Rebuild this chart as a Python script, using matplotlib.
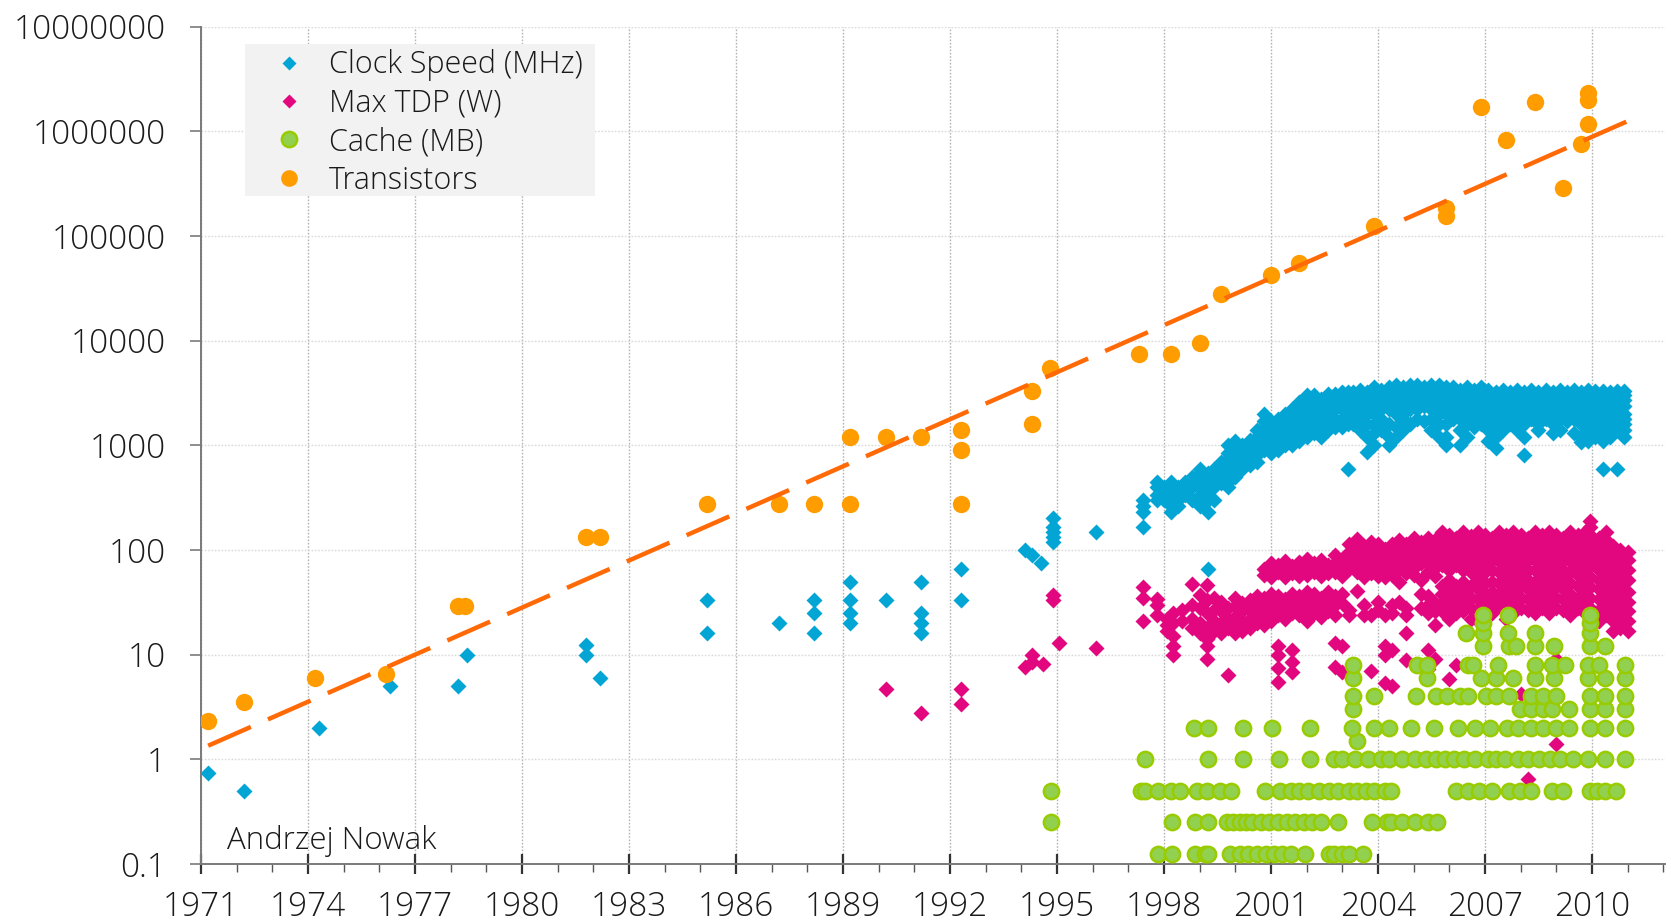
import matplotlib
matplotlib.use("Agg")
import matplotlib.pyplot as plt
from matplotlib import font_manager as fm
from matplotlib.lines import Line2D
from matplotlib.patches import Rectangle
from matplotlib.ticker import FixedLocator, FuncFormatter, MultipleLocator

# ---------------- font choice ----------------
entries = fm.fontManager.ttflist
chosen = None
for fam in ("Noto Sans", "Open Sans", "Roboto", "Lato"):
    for e in entries:
        if e.name == fam and str(e.stretch) == "normal" and e.weight in (300, "light") and e.style == "normal":
            chosen = e
            break
    if chosen:
        break
if chosen is None:
    plt.rcParams["font.family"] = ["Liberation Sans Narrow", "DejaVu Sans"]
else:
    plt.rcParams["font.family"] = [chosen.name, "DejaVu Sans"]
    plt.rcParams["font.weight"] = chosen.weight
    plt.rcParams["font.stretch"] = chosen.stretch
FS = 24
FS_LEG = 22

# ---------------- data ----------------
# Transistors (thousands)
trans_years = [1971.2, 1972.2, 1974.2, 1976.2, 1978.2, 1978.4, 1981.8, 1982.2, 1985.2, 1987.2,
               1988.2, 1989.2, 1989.2, 1990.2, 1991.2, 1992.3, 1992.3, 1992.3, 1994.3, 1994.3,
               1994.8, 1997.3, 1998.2, 1999.0, 1999.6, 2001.0, 2001.8, 2003.9, 2005.9, 2005.9,
               2006.9, 2007.6, 2008.4, 2009.2, 2009.7, 2009.9, 2009.9, 2009.9]
trans_values = [2.3, 3.5, 6, 6.5, 29, 29, 134, 134, 275, 275,
                275, 1200, 275, 1200, 1200, 1400, 900, 275, 3300, 1600,
                5500, 7500, 7500, 9500, 28000, 42000, 55000, 125000, 185000, 155000,
                1700000, 820000, 1900000, 290000, 750000, 2300000, 2000000, 1170000]

trend_years = [1971.2, 2011.0]
trend_values = [1.35, 1.25e6]

# Clock speed (MHz): years and values per year
clock_years = [1971.2, 1972.2, 1974.3, 1976.3, 1978.2, 1978.45, 1981.8, 1982.2, 1985.2, 1987.2,
               1988.2, 1989.2, 1990.2, 1991.2, 1992.3, 1994.1, 1994.3, 1994.55, 1994.9, 1996.1,
               1997.4, 1997.8, 1998.0, 1998.2, 1998.4, 1998.6, 1998.8, 1999.0, 1999.25, 1999.4,
               1999.6, 1999.8, 2000.0, 2000.2, 2000.4, 2000.6, 2000.8, 2001.0, 2001.2, 2001.4,
               2001.6, 2001.8, 2002.0, 2002.2, 2002.4, 2002.6, 2002.8, 2003.0, 2003.15, 2003.3,
               2003.5, 2003.7, 2003.9, 2004.1, 2004.3, 2004.5, 2004.7, 2004.9, 2005.1, 2005.3,
               2005.5, 2005.7, 2005.9, 2006.1, 2006.3, 2006.5, 2006.7, 2006.9, 2007.1, 2007.3,
               2007.5, 2007.7, 2007.9, 2008.1, 2008.3, 2008.5, 2008.7, 2008.9, 2009.1, 2009.3,
               2009.5, 2009.7, 2009.9, 2010.1, 2010.3, 2010.5, 2010.7, 2010.9]
clock_mhz = [[0.74], [0.5], [2], [5], [5], [10], [12.5, 10], [6], [33, 16], [20],
             [33, 25, 16], [50, 33, 25, 20], [33], [50, 25, 20, 16], [66, 33], [100], [90], [75],
             [200, 166, 150, 133, 120], [150],
             [300, 266, 233, 166], [450, 400, 333, 300], [400, 350, 300], [450, 400, 333, 266, 233],
             [400, 350, 300, 266], [450, 400, 333], [500, 450, 400, 300],
             [600, 550, 450, 400, 333, 266], [550, 500, 450, 366, 300, 233, 66], [600, 533, 466, 400, 300],
             [700, 650, 550, 500, 433], [1000, 850, 733, 650, 550, 450, 400],
             [1100, 933, 800, 700, 600, 500], [1000, 900, 800, 700, 600],
             [1133, 1000, 850, 733, 650], [1400, 1200, 1000, 900, 800, 700],
             [2000, 1700, 1500, 1300, 1133, 1000, 900], [1700, 1500, 1300, 1100, 1000, 850],
             [1800, 1600, 1400, 1200, 1000, 900], [2000, 1700, 1500, 1300, 1100, 1000],
             [2200, 1900, 1600, 1400, 1200, 1000], [2600, 2200, 1800, 1500, 1300, 1100],
             [3000, 2600, 2400, 2000, 1700, 1400, 1200], [3000, 2800, 2400, 2200, 2000, 1600, 1300],
             [2800, 2500, 2200, 1800, 1500, 1200], [3060, 2800, 2400, 2000, 1700, 1400],
             [3060, 2800, 2600, 2200, 1800, 1500], [3200, 3000, 2600, 2200, 1800, 1500],
             [3200, 2800, 2400, 2000, 1600, 600], [3200, 3000, 2800, 2400, 2000, 1600],
             [3400, 3000, 2600, 2200, 1800, 1400], [3200, 2800, 2400, 2000, 1600, 1200, 860],
             [3600, 3200, 2800, 2400, 2000, 1600, 1300, 1000], [3400, 3000, 2600, 2200, 1800, 1400],
             [3600, 3200, 2800, 2200, 1600, 1200, 1000], [3800, 3400, 3000, 2600, 2000, 1500, 1200],
             [3600, 3200, 2800, 2400, 2000, 1800, 1400], [3800, 3400, 3000, 2600, 2200, 1600],
             [3800, 3400, 3000, 2800, 2200, 1800], [3600, 3200, 2800, 2400, 1700],
             [3800, 3400, 3000, 2600, 2200, 1800, 1400], [3800, 3400, 3000, 2400, 2000, 1600, 1200],
             [3600, 3200, 2800, 2400, 2000, 1600, 1200, 1000], [3600, 3200, 2800, 2400, 2000, 1800],
             [3400, 3000, 2600, 2200, 1800, 1400, 1000], [3600, 3200, 2800, 2400, 2000, 1600, 1200],
             [3400, 3000, 2600, 2200, 1800, 1500], [3600, 3200, 2800, 2400, 2000, 1600],
             [3400, 3000, 2600, 2200, 1800, 1400, 1100], [3200, 2800, 2400, 2000, 1600, 1200, 950],
             [3400, 3000, 2600, 2200, 1800, 1400], [3200, 2800, 2400, 2000, 1600],
             [3400, 3000, 2600, 2200, 1800, 1400], [3200, 2800, 2400, 2000, 1600, 1200, 800],
             [3400, 3000, 2600, 2200, 1800], [3200, 2800, 2400, 2000, 1600, 1400],
             [3400, 3000, 2600, 2200, 1800], [3200, 2800, 2400, 2000, 1600, 1300],
             [3400, 3000, 2600, 2200, 1800, 1400], [3200, 2800, 2400, 2000, 1700],
             [3400, 3000, 2600, 2200, 1800, 1300], [3200, 2800, 2400, 2000, 1600, 1200, 1075],
             [3400, 3000, 2600, 2200, 1800, 1400, 1100], [3300, 2900, 2500, 2000, 1600, 1200],
             [3300, 3000, 2600, 2200, 1800, 1400, 1100, 600], [3200, 2800, 2400, 2000, 1600, 1200],
             [3300, 3000, 2600, 2200, 1800, 1400, 600],
             [3300, 3000, 2700, 2400, 2000, 1800, 1600, 1400, 1200]]

# Max TDP (W)
tdp_years = [1990.2, 1991.2, 1992.3, 1994.1, 1994.3, 1994.6, 1994.9, 1995.05, 1996.1,
             1997.4, 1997.8, 1998.1, 1998.25, 1998.5, 1998.8, 1999.0, 1999.2, 1999.4, 1999.6,
             1999.8, 2000.0, 2000.2, 2000.4, 2000.6, 2000.8, 2001.0, 2001.2, 2001.4, 2001.6,
             2001.8, 2002.0, 2002.2, 2002.4, 2002.6, 2002.8, 2003.0, 2003.2, 2003.4, 2003.6,
             2003.8, 2004.0, 2004.2, 2004.4, 2004.6, 2004.8, 2005.0, 2005.2, 2005.4, 2005.6,
             2005.8, 2006.0, 2006.2, 2006.4, 2006.6, 2006.8, 2007.0, 2007.2, 2007.4, 2007.6,
             2007.8, 2008.0, 2008.2, 2008.4, 2008.6, 2008.8, 2009.0, 2009.2, 2009.4, 2009.6,
             2009.8, 2009.95, 2010.2, 2010.4, 2010.6, 2010.8, 2011.0]
tdp_watts = [[4.7], [2.8], [4.7, 3.4], [7.6], [10, 8.5], [8.1], [37, 33], [13], [11.7],
             [44, 35, 21], [34, 30, 24], [22, 19, 17], [25, 20, 15, 12, 10], [27, 21],
             [47, 30, 22, 18], [37, 28, 20, 16], [46, 33, 25, 18, 14, 12, 9], [35, 27, 21, 17],
             [32, 26, 20, 16], [28, 22, 18, 6.4], [35, 29, 23, 19, 16], [31, 26, 21, 17],
             [33, 27, 22, 18], [36, 30, 25, 20], [66, 58, 35, 29, 24, 19],
             [75, 66, 55, 38, 31, 26, 21], [72, 62, 36, 29, 24, 12, 10, 7.5, 5.5],
             [78, 64, 55, 34, 27, 22], [70, 60, 38, 31, 25, 11, 8.5, 6.8],
             [76, 65, 56, 36, 30, 24], [82, 68, 58, 40, 33, 27, 21], [75, 62, 38, 31, 25],
             [80, 66, 57, 35, 29, 23], [72, 60, 40, 32, 26], [89, 75, 62, 36, 30, 24, 13, 7.6],
             [82, 68, 57, 38, 31, 12, 6.8], [115, 95, 80, 66, 27, 24], [127, 103, 89, 74, 62, 41],
             [110, 92, 80, 68, 55, 30, 24], [120, 100, 86, 72, 60, 24, 7],
             [115, 95, 82, 68, 57, 32, 27], [103, 89, 74, 62, 55, 24, 12, 10, 5.4],
             [115, 98, 84, 70, 58, 30, 25, 11, 5], [125, 110, 95, 80, 66, 50, 32],
             [115, 100, 86, 72, 60, 28, 24, 16, 8.8], [130, 110, 95, 80, 68, 58],
             [120, 103, 89, 75, 52, 38, 28, 8], [130, 115, 100, 86, 74, 62, 36, 30, 25, 11, 7.3],
             [125, 110, 95, 80, 68, 56, 31, 26, 19, 9], [150, 130, 115, 100, 86, 72, 45, 38, 31, 26],
             [140, 125, 105, 90, 78, 65, 52, 42, 35, 28, 22, 5.9],
             [130, 115, 100, 86, 72, 45, 38, 30, 25, 8], [150, 125, 110, 95, 80, 65, 50, 40, 32, 26],
             [135, 120, 105, 90, 75, 62, 45, 35, 28, 22], [150, 130, 110, 95, 80, 65, 52, 42, 34, 27, 21],
             [140, 125, 105, 90, 76, 62, 48, 38, 30, 24], [130, 115, 95, 80, 65, 50, 40, 32, 25],
             [150, 125, 110, 95, 78, 62, 48, 38, 30, 6], [140, 120, 105, 88, 72, 58, 45, 35, 28, 22],
             [150, 130, 115, 95, 80, 65, 50, 40, 32, 25], [140, 120, 100, 85, 70, 55, 45, 35, 28, 4.2],
             [130, 115, 95, 80, 65, 52, 42, 34, 27, 0.65], [150, 130, 110, 95, 80, 65, 50, 40, 32, 25],
             [140, 120, 105, 88, 72, 58, 45, 35, 28], [150, 130, 115, 95, 80, 65, 52, 40, 32, 25],
             [140, 120, 100, 85, 70, 56, 45, 35, 28, 9, 1.4], [130, 115, 95, 80, 65, 52, 42, 34, 27],
             [150, 130, 110, 95, 78, 62, 48, 38, 30, 24], [140, 120, 105, 88, 72, 58, 45, 35, 28],
             [150, 130, 115, 95, 80, 65, 52, 40, 32, 25],
             [190, 165, 140, 120, 100, 85, 70, 55, 44, 35, 28, 22, 18],
             [130, 110, 95, 80, 65, 52, 42, 34, 27, 21], [150, 125, 105, 90, 75, 60, 48, 38, 30, 24],
             [110, 95, 80, 65, 52, 42, 34, 27, 21, 17], [100, 85, 70, 56, 45, 36, 29, 23, 18],
             [95, 80, 65, 52, 40, 32, 26, 21, 17]]

# Cache (MB): levels and the years at which each level appears
cache_levels = [0.125, 0.25, 0.5, 1, 1.5, 2, 3, 4, 6, 8, 12, 16, 20, 24]
cache_years = [
    [1997.84, 1998.24, 1998.86, 1999.16, 1999.25, 1999.85, 2000.12, 2000.36, 2000.60, 2000.87,
     2001.08, 2001.32, 2001.56, 2001.95, 2002.64, 2002.76, 2003.00, 2003.18, 2003.57],
    [1994.84, 1998.24, 1998.86, 1999.25, 1999.76, 1999.94, 2000.12, 2000.30, 2000.48, 2000.72,
     2000.96, 2001.20, 2001.44, 2001.68, 2001.92, 2002.16, 2002.40, 2002.88, 2003.84, 2004.26,
     2004.38, 2004.68, 2005.04, 2005.40, 2005.67],
    [1994.84, 1997.36, 1997.48, 1997.84, 1998.20, 1998.44, 1998.92, 1999.22, 1999.58, 1999.88,
     2000.84, 2001.26, 2001.56, 2001.80, 2002.04, 2002.34, 2002.64, 2002.88, 2003.18, 2003.42,
     2003.66, 2003.90, 2004.20, 2004.38, 2006.18, 2006.54, 2006.84, 2007.20, 2007.68, 2007.98,
     2008.28, 2008.88, 2009.18, 2009.96, 2010.14, 2010.38, 2010.68],
    [1997.46, 1999.25, 2000.22, 2001.23, 2002.10, 2002.76, 2003.00, 2003.36, 2003.72, 2004.08,
     2004.32, 2004.68, 2005.04, 2005.34, 2005.64, 2005.88, 2006.12, 2006.42, 2006.72, 2007.08,
     2007.32, 2007.56, 2007.92, 2008.22, 2008.52, 2008.82, 2009.12, 2009.48, 2009.90, 2010.38,
     2010.92],
    [2003.42],
    [1998.84, 1999.25, 2000.21, 2001.04, 2002.10, 2003.27, 2003.90, 2004.32, 2004.92, 2005.58,
     2006.24, 2006.72, 2007.14, 2007.62, 2007.92, 2008.28, 2008.64, 2009.00, 2009.36, 2009.96,
     2010.38, 2010.92],
    [2003.30, 2007.98, 2008.28, 2008.64, 2008.88, 2009.36, 2009.96, 2010.38, 2010.92],
    [2003.30, 2003.90, 2005.07, 2005.64, 2005.94, 2006.30, 2006.54, 2007.02, 2007.32, 2007.68,
     2008.28, 2008.64, 2009.00, 2009.96, 2010.38, 2010.92],
    [2003.30, 2005.38, 2006.90, 2007.32, 2007.80, 2008.40, 2008.94, 2009.90, 2010.38, 2010.92],
    [2003.30, 2005.10, 2005.38, 2006.54, 2006.66, 2007.38, 2008.40, 2008.88, 2009.24, 2009.90,
     2010.20, 2010.92],
    [2006.94, 2007.68, 2007.86, 2008.40, 2008.94, 2009.94, 2010.38],
    [2006.48, 2006.94, 2007.66, 2008.40, 2009.94],
    [2006.94, 2009.94],
    [2006.94, 2007.66, 2009.94],
]

series_labels = ["Clock Speed (MHz)", "Max TDP (W)", "Cache (MB)", "Transistors"]
year_ticks = list(range(1971, 2011, 3))
value_ticks = [0.1, 1, 10, 100, 1000, 10000, 100000, 1000000, 10000000]
credit = "Andrzej Nowak"

# ---------------- styling ----------------
C_CLOCK = "#03a5d5"
C_TDP = "#e2077f"
C_CACHE = "#92d050"
C_CACHE_EDGE = "#99cc00"
C_TRANS = "#ff9c00"
C_TREND = "#ff6a06"

def flatten(years, groups):
    xs, ys = [], []
    for yr, vals in zip(years, groups):
        for v in vals:
            xs.append(yr)
            ys.append(v)
    return xs, ys

clock_x, clock_y = flatten(clock_years, clock_mhz)
tdp_x, tdp_y = flatten(tdp_years, tdp_watts)
cache_x, cache_y = [], []
for lvl, yrs in zip(cache_levels, cache_years):
    for yr in yrs:
        cache_x.append(yr)
        cache_y.append(lvl)

fig = plt.figure(figsize=(16.71, 9.22), dpi=100)
ax = fig.add_axes([0.1203, 0.0629, 0.8761, 0.9082])

ax.plot(clock_x, clock_y, linestyle="none", marker="D", ms=7.8, mfc=C_CLOCK, mec="none", zorder=3)
ax.plot(tdp_x, tdp_y, linestyle="none", marker="D", ms=7.8, mfc=C_TDP, mec="none", zorder=3)
ax.plot(cache_x, cache_y, linestyle="none", marker="o", ms=11, mfc=C_CACHE, mec=C_CACHE_EDGE, mew=1.8, zorder=4)
ax.plot(trans_years, trans_values, linestyle="none", marker="o", ms=12.5, mfc=C_TRANS, mec="none", zorder=4)
trend, = ax.plot(trend_years, trend_values, color=C_TREND, lw=3.2, zorder=5)
trend.set_dashes([10.5, 4.2])
trend.set_dash_capstyle("butt")

ax.set_yscale("log")
ax.set_ylim(0.1, 1e7)
ax.set_xlim(1971, 2012.05)

ax.yaxis.set_major_locator(FixedLocator(value_ticks))
ax.yaxis.set_minor_locator(FixedLocator([]))
ax.yaxis.set_major_formatter(FuncFormatter(lambda v, p: ("%g" % v) if v < 1 else "%d" % round(v)))
ax.xaxis.set_major_locator(FixedLocator(year_ticks))
ax.xaxis.set_minor_locator(MultipleLocator(1))
ax.xaxis.set_major_formatter(FuncFormatter(lambda v, p: "%d" % round(v)))

for s in ("top", "right"):
    ax.spines[s].set_visible(False)
for s in ("left", "bottom"):
    ax.spines[s].set_color("#7a7a7a")
    ax.spines[s].set_linewidth(1.4)

ax.tick_params(axis="y", which="major", direction="out", length=8, width=1.2, color="#7a7a7a",
               labelsize=FS, pad=17, labelcolor="#1a1a1a")
ax.tick_params(axis="x", which="major", direction="inout", length=14, width=1.6, color="#333333",
               labelsize=FS, pad=12, labelcolor="#1a1a1a")
ax.tick_params(axis="x", which="minor", direction="out", length=6, width=1.0, color="#555555")

ax.grid(axis="x", which="major", color="#b5b5b5", linestyle=(0, (1.2, 1.2)), linewidth=1.0, zorder=0)
ax.grid(axis="y", which="major", color="#dadada", linestyle=(0, (1.2, 1.2)), linewidth=1.0, zorder=0)
ax.set_axisbelow(True)

# legend box
ax.add_patch(Rectangle((0.0301, 0.7977), 0.2390, 0.1815, transform=ax.transAxes,
                       facecolor="#f2f2f2", edgecolor="none", zorder=6))
handles = [
    Line2D([], [], linestyle="none", marker="D", ms=7.0, mfc=C_CLOCK, mec="none"),
    Line2D([], [], linestyle="none", marker="D", ms=7.0, mfc=C_TDP, mec="none"),
    Line2D([], [], linestyle="none", marker="o", ms=11, mfc=C_CACHE, mec=C_CACHE_EDGE, mew=1.8),
    Line2D([], [], linestyle="none", marker="o", ms=12, mfc=C_TRANS, mec="none"),
]
leg = ax.legend(handles, series_labels, loc="upper left", bbox_to_anchor=(0.0478, 0.9730),
                frameon=False, fontsize=FS_LEG, borderpad=0, borderaxespad=0, labelspacing=0.21,
                handlelength=1.2, handletextpad=0.71, labelcolor="#1a1a1a")
leg.set_zorder(7)

ax.text(0.018, 0.018, credit, transform=ax.transAxes, fontsize=22.5, color="#1a1a1a",
        ha="left", va="baseline", zorder=7)

fig.savefig("out.png", dpi=100)
